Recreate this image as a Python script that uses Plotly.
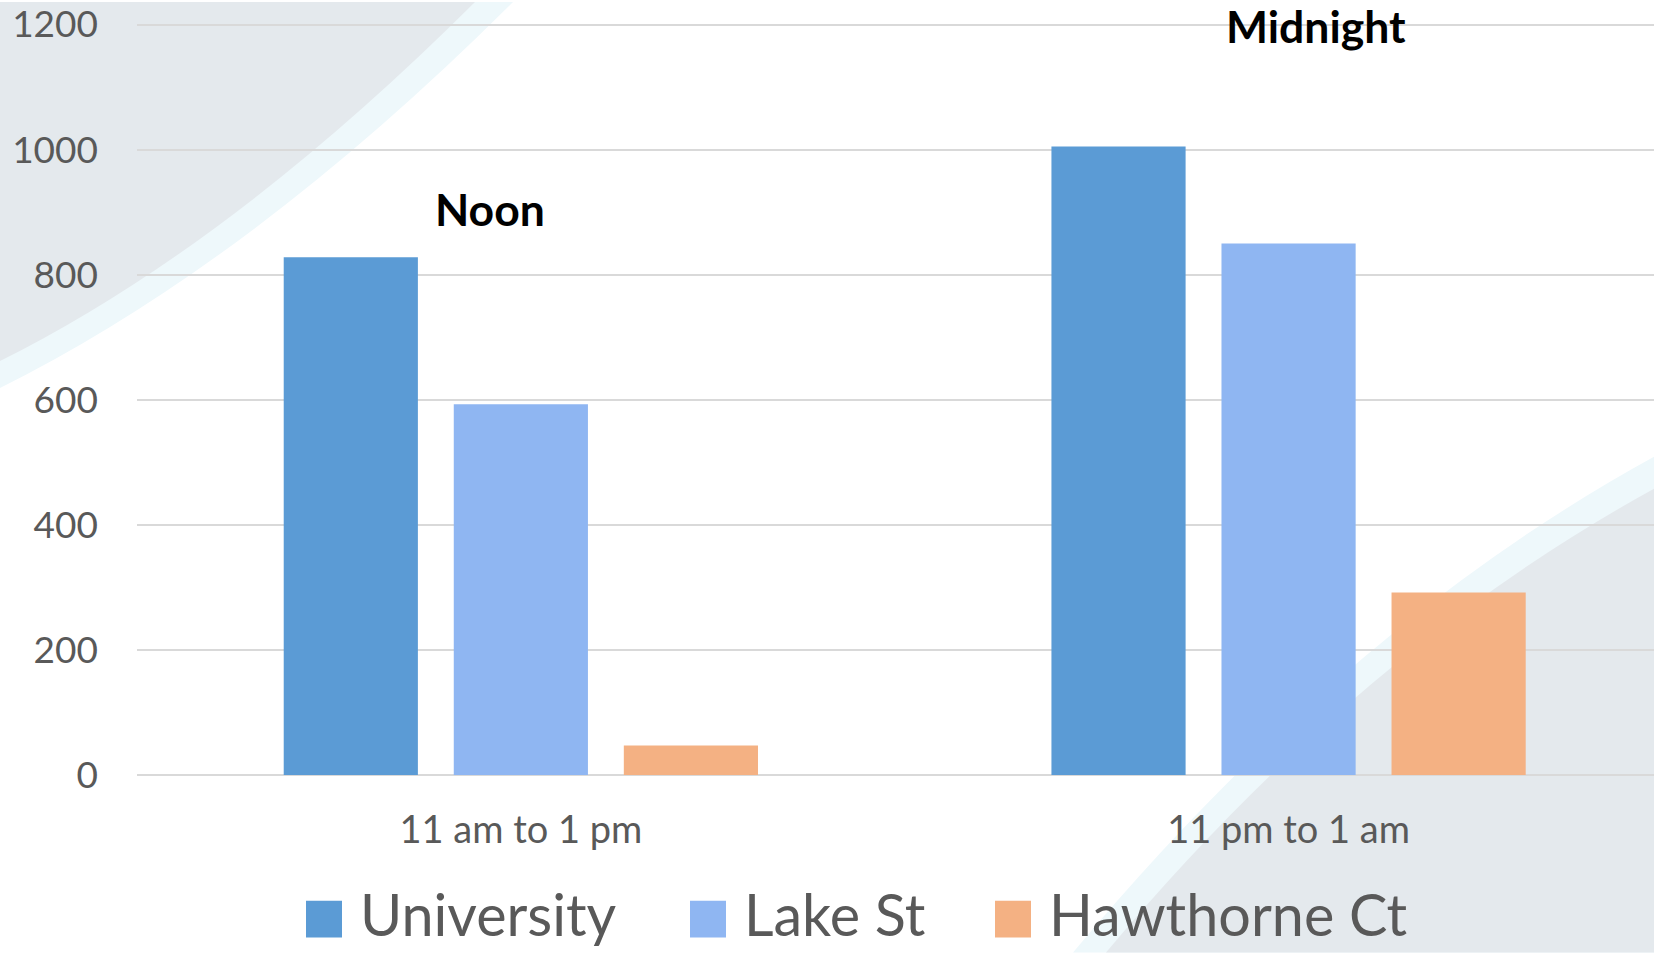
import plotly.graph_objects as go

# ---- data ----
categories = ["11 am to 1 pm", "11 pm to 1 am"]
series_names = ["University", "Lake St", "Hawthorne Ct"]
university = [828, 1005]
lake_st = [593, 850]
hawthorne_ct = [47, 292]
y_ticks = [0, 200, 400, 600, 800, 1000, 1200]
callouts = ["Noon", "Midnight"]
callout_values = [906, 1198]

colors = ["#5B9BD5", "#8FB6F2", "#F4B183"]
series_values = [university, lake_st, hawthorne_ct]

W, H = 1654, 953
L, R, T, B = 137, 1654, 20, 775
FONT = "Lato"
TXT = "#595959"


def px(x, y):
    """pixel -> paper coords"""
    return (x - L) / (R - L), (B - y) / (B - T)


def path(pts):
    out = []
    for cmd, coords in pts:
        s = " ".join("%.5f,%.5f" % px(*c) for c in coords)
        out.append(cmd + " " + s)
    return " ".join(out) + " Z"


fig = go.Figure()
for name, vals, col in zip(series_names, series_values, colors):
    fig.add_trace(go.Bar(x=categories, y=vals, name=name, marker_color=col,
                         marker_line_width=0, showlegend=False))

shapes = []
bg_grey = "#E4E9ED"
bg_light = "#EEF8FB"
# top-left decoration
shapes.append(dict(type="path", xref="paper", yref="paper", layer="below", line_width=0,
                   fillcolor=bg_light,
                   path=path([("M", [(0, 0)]), ("L", [(513, 0)]), ("Q", [(252, 261), (0, 387)])])))
shapes.append(dict(type="path", xref="paper", yref="paper", layer="below", line_width=0,
                   fillcolor=bg_grey,
                   path=path([("M", [(0, 0)]), ("L", [(475, 0)]), ("Q", [(230, 245), (0, 360)])])))
# bottom-right decoration
shapes.append(dict(type="path", xref="paper", yref="paper", layer="below", line_width=0,
                   fillcolor=bg_light,
                   path=path([("M", [(1654, 953)]), ("L", [(1654, 456)]), ("Q", [(1346, 625), (1073, 953)])])))
shapes.append(dict(type="path", xref="paper", yref="paper", layer="below", line_width=0,
                   fillcolor=bg_grey,
                   path=path([("M", [(1654, 953)]), ("L", [(1654, 488)]), ("Q", [(1358, 651), (1106, 953)])])))

annotations = []
# manual legend
legend_sq_x = [306, 690, 995]
sq = 36
ly0, ly1 = 901, 938
for name, col, x0 in zip(series_names, colors, legend_sq_x):
    ax0, ay0 = px(x0, ly1)
    ax1, ay1 = px(x0 + sq, ly0)
    shapes.append(dict(type="rect", xref="paper", yref="paper", x0=ax0, x1=ax1, y0=ay0, y1=ay1,
                       fillcolor=col, line_width=0))
    tx, ty = px(x0 + sq + 16, (ly0 + ly1) / 2 - 6)
    annotations.append(dict(xref="paper", yref="paper", x=tx, y=ty, text=name, showarrow=False,
                            xanchor="left", yanchor="middle",
                            font=dict(family=FONT, size=57.5, color=TXT)))

# callouts
callout_x = [-0.04, 1.036]
for txt, xv, yv in zip(callouts, callout_x, callout_values):
    annotations.append(dict(x=xv, y=yv, xref="x", yref="y", text="<b>%s</b>" % txt, showarrow=False,
                            xanchor="center", yanchor="middle",
                            font=dict(family=FONT, size=44.5, color="#000000")))

fig.update_layout(
    width=W, height=H,
    margin=dict(l=L, r=W - R, t=T, b=H - B),
    paper_bgcolor="white", plot_bgcolor="rgba(0,0,0,0)",
    barmode="group", bargap=0.3355, bargroupgap=0.211,
    shapes=shapes, annotations=annotations,
    showlegend=False,
    font=dict(family=FONT, color=TXT),
)
fig.update_xaxes(range=[-0.5, 1.476], showgrid=False, showline=False, zeroline=False,
                 tickfont=dict(family=FONT, size=38, color=TXT), ticks="", ticklabelstandoff=29)
fig.update_yaxes(range=[0, 1204], tickvals=y_ticks, showgrid=True, gridcolor="#D9D9D9", gridwidth=1.5,
                 zeroline=True, zerolinecolor="#D9D9D9", zerolinewidth=1.5, showline=False,
                 ticklabeloverflow="allow",
                 tickfont=dict(family=FONT, size=37, color=TXT), ticks="", ticklabelstandoff=38)

fig.write_html("out.html", config={"displayModeBar": False},
               post_script="document.body.style.margin='0';document.body.style.overflow='hidden';")
